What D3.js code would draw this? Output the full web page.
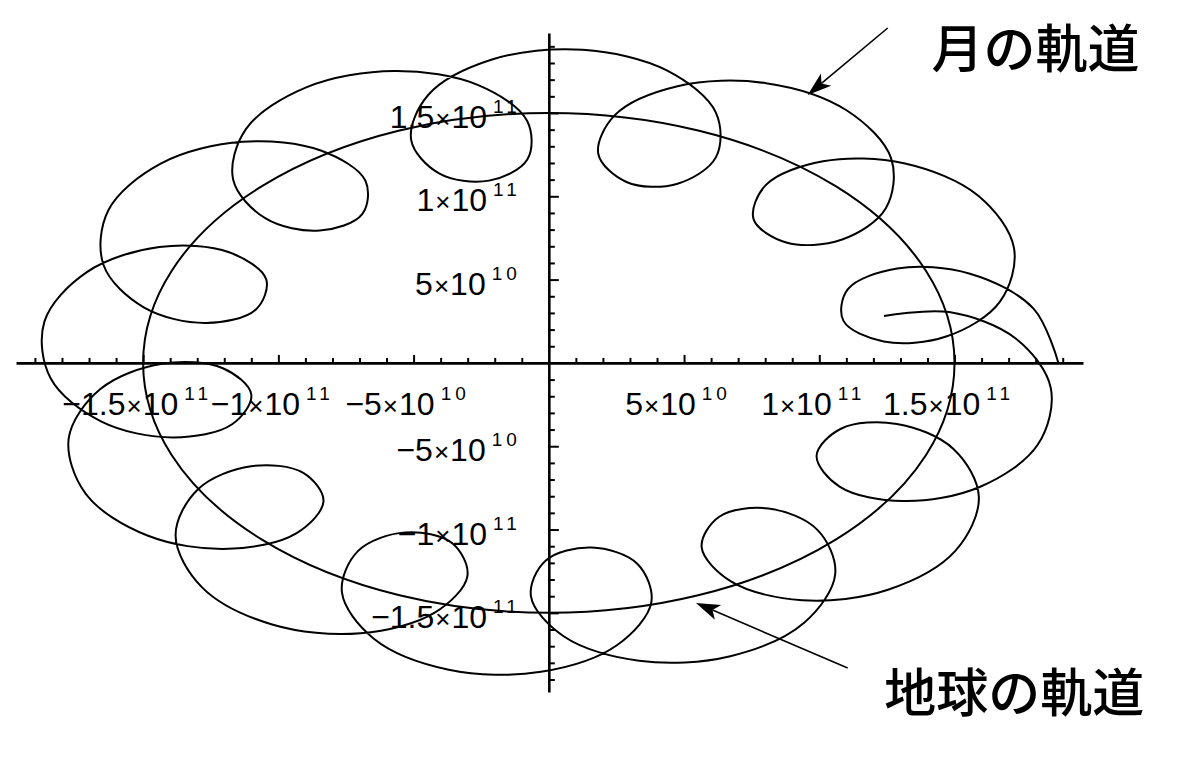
<!DOCTYPE html>
<html>
<head>
<meta charset="utf-8">
<script src="https://cdn.jsdelivr.net/npm/d3@7"></script>
<style>
  body { margin: 0; background: #fff; }
  svg { display: block; }
</style>
</head>
<body>
<svg id="chart" width="1200" height="762"></svg>
<script>
// all lengths in units of 1e10 m
const earthOrbitRadius = 15;

// moon path, from start (right, on the axis) counter-clockwise
const moonPath = [
  [18.84,0.00],[17.92,3.26],[15.57,5.35],[12.88,5.66],[11.05,4.41],[10.89,2.54],[12.38,1.29],[14.72,1.60],[16.68,3.68],
  [17.20,6.88],[15.89,10.02],[13.17,11.97],[10.14,12.10],[8.02,10.67],[7.57,8.63],[8.78,7.23],[10.82,7.39],[12.46,9.28],
  [12.66,12.26],[11.02,15.15],[8.03,16.79],[4.76,16.61],[2.44,14.87],[1.83,12.54],[2.87,10.86],[4.73,10.74],[6.18,12.35],
  [6.18,15.01],[4.38,17.54],[1.25,18.79],[-2.10,18.21],[-4.46,16.08],[-5.09,13.39],[-4.06,11.38],[-2.21,10.94],[-0.79,12.22],
  [-0.80,14.52],[-2.61,16.67],[-5.70,17.52],[-8.97,16.54],[-11.20,14.03],[-11.67,10.99],[-10.47,8.67],[-8.47,7.94],[-6.90,8.93],
  [-6.78,10.93],[-8.43,12.75],[-11.32,13.27],[-14.35,11.96],[-16.29,9.15],[-16.46,5.86],[-14.96,3.32],[-12.67,2.40],[-10.83,3.21],
  [-10.45,5.02],[-11.82,6.64],[-14.40,6.95],[-17.08,5.45],[-18.65,2.48],[-18.42,-0.92],[-16.54,-3.52],[-13.89,-4.47],[-11.71,-3.68],
  [-11.00,-1.90],[-12.05,-0.32],[-14.29,-0.05],[-16.58,-1.57],[-17.75,-4.52],[-17.12,-7.86],[-14.84,-10.36],[-11.84,-11.16],[-9.34,-10.23],
  [-8.33,-8.30],[-9.08,-6.60],[-11.01,-6.20],[-12.97,-7.58],[-13.80,-10.36],[-12.82,-13.47],[-10.23,-15.70],[-6.96,-16.22],[-4.22,-14.99],
  [-3.01,-12.79],[-3.57,-10.82],[-5.30,-10.17],[-7.05,-11.28],[-7.65,-13.76],[-6.47,-16.55],[-3.70,-18.41],[-0.29,-18.54],[2.53,-16.93],
  [3.79,-14.36],[3.27,-12.05],[1.58,-11.08],[-0.12,-11.87],[-0.66,-14.01],[0.56,-16.42],[3.34,-17.88],[6.71,-17.60],[9.44,-15.59],
  [10.59,-12.66],[9.93,-10.02],[8.12,-8.74],[6.30,-9.23],[5.65,-11.06],[6.75,-13.13],[9.37,-14.24],[12.54,-13.61],[15.03,-11.28],
  [15.90,-8.05],[14.96,-5.16],[12.87,-3.66],[10.80,-3.95],[9.90,-5.57],[10.75,-7.42],[13.09,-8.29],[15.95,-7.43],[18.08,-4.90],
  [18.56,-1.51],[17.25,1.48],[14.80,3.05],[12.39,2.82]
];

const xExtent = [-19.7, 19.75];
const yExtent = [-19.75, 19.8];
const minorTicks = [-19,-18,-17,-16,-14,-13,-12,-11,-9,-8,-7,-6,-4,-3,-2,-1,1,2,3,4,6,7,8,9,11,12,13,14,16,17,18,19];
const majorTicks = [-15, -10, -5, 5, 10, 15];
const xTickLabels = [["−1.5","11"],["−1","11"],["−5","10"],["5","10"],["1","11"],["1.5","11"]];
const yTickLabels = [["−1.5","11"],["−1","11"],["−5","10"],["5","10"],["1","11"],["1.5","11"]];

// annotations: [text, x, y], arrows: [fromX, fromY, toX, toY]
const notes = [["月の軌道", 14.15, 17.70], ["地球の軌道", 12.40, -20.95]];
const arrows = [[12.53, 20.10, 9.57, 16.08], [11.05, -18.31, 5.44, -14.41]];

const svg = d3.select("#chart");

const x = d3.scaleLinear().domain(xExtent).range([16, 1083]);
const y = d3.scaleLinear().domain(yExtent).range([692, 33]);

// axes
const xAxisG = svg.append("g").attr("transform", `translate(0,${y(0)})`);
xAxisG.call(d3.axisTop(x).tickValues(minorTicks).tickSize(5).tickSizeOuter(0).tickFormat(""));
xAxisG.call(g => g.append("g").call(d3.axisTop(x).tickValues(majorTicks).tickSize(8).tickFormat("")).select(".domain").remove());

const yAxisG = svg.append("g").attr("transform", `translate(${x(0)},0)`);
yAxisG.call(d3.axisRight(y).tickValues(minorTicks).tickSize(6).tickSizeOuter(0).tickFormat(""));
yAxisG.call(g => g.append("g").call(d3.axisRight(y).tickValues(majorTicks).tickSize(10).tickFormat("")).select(".domain").remove());

svg.selectAll(".domain").attr("stroke", "#000").attr("stroke-width", 2.6);
svg.selectAll(".tick line").attr("stroke", "#000").attr("stroke-width", 2);

// tick labels
function sciLabel(px, py, anchor, lab) {
  const t = svg.append("text")
    .attr("x", px).attr("y", py)
    .attr("text-anchor", anchor)
    .attr("font-family", "Liberation Sans, Arial, sans-serif")
    .attr("font-size", 32)
    .attr("fill", "#000");
  t.append("tspan").text(lab[0]);
  t.append("tspan").attr("font-size", 26).attr("dx", 1).text("×");
  t.append("tspan").attr("dx", 1).text("10");
  t.append("tspan").attr("dy", -15).attr("dx", 6).attr("font-size", 19).attr("letter-spacing", 4).text(lab[1]);
}
majorTicks.forEach((v, i) => sciLabel(x(v) - 6, y(0) + 52, "middle", xTickLabels[i]));
majorTicks.forEach((v, i) => sciLabel(x(0) - 28, y(v) + 15, "end", yTickLabels[i]));

// earth orbit
svg.append("ellipse")
  .attr("cx", x(0)).attr("cy", y(0))
  .attr("rx", x(earthOrbitRadius) - x(0))
  .attr("ry", y(0) - y(earthOrbitRadius))
  .attr("fill", "none").attr("stroke", "#000").attr("stroke-width", 2);

// moon orbit
const line = d3.line()
  .x(d => x(d[0])).y(d => y(d[1]))
  .curve(d3.curveCatmullRom.alpha(0.5));

svg.append("path")
  .datum(moonPath)
  .attr("d", line)
  .attr("fill", "none").attr("stroke", "#000").attr("stroke-width", 2);

// arrows
arrows.forEach(a => {
  const x1 = x(a[0]), y1 = y(a[1]), x2 = x(a[2]), y2 = y(a[3]);
  const ang = Math.atan2(y2 - y1, x2 - x1);
  const len = 24, hw = 8;
  const bx = x2 - len * Math.cos(ang), by = y2 - len * Math.sin(ang);
  svg.append("line")
    .attr("x1", x1).attr("y1", y1).attr("x2", bx + 6 * Math.cos(ang)).attr("y2", by + 6 * Math.sin(ang))
    .attr("stroke", "#000").attr("stroke-width", 1.6);
  svg.append("polygon")
    .attr("points", [
      [x2, y2],
      [bx - hw * Math.sin(ang), by + hw * Math.cos(ang)],
      [bx + 6 * Math.cos(ang), by + 6 * Math.sin(ang)],
      [bx + hw * Math.sin(ang), by - hw * Math.cos(ang)]
    ].map(p => p.join(",")).join(" "))
    .attr("fill", "#000");
});

// japanese labels
svg.selectAll(".note")
  .data(notes)
  .join("text")
    .attr("class", "note")
    .attr("x", d => x(d[1])).attr("y", d => y(d[2]))
    .attr("font-family", "Noto Sans CJK JP, sans-serif")
    .attr("font-size", 52)
    .attr("font-weight", 500)
    .attr("fill", "#000")
    .text(d => d[0]);
</script>
</body>
</html>
